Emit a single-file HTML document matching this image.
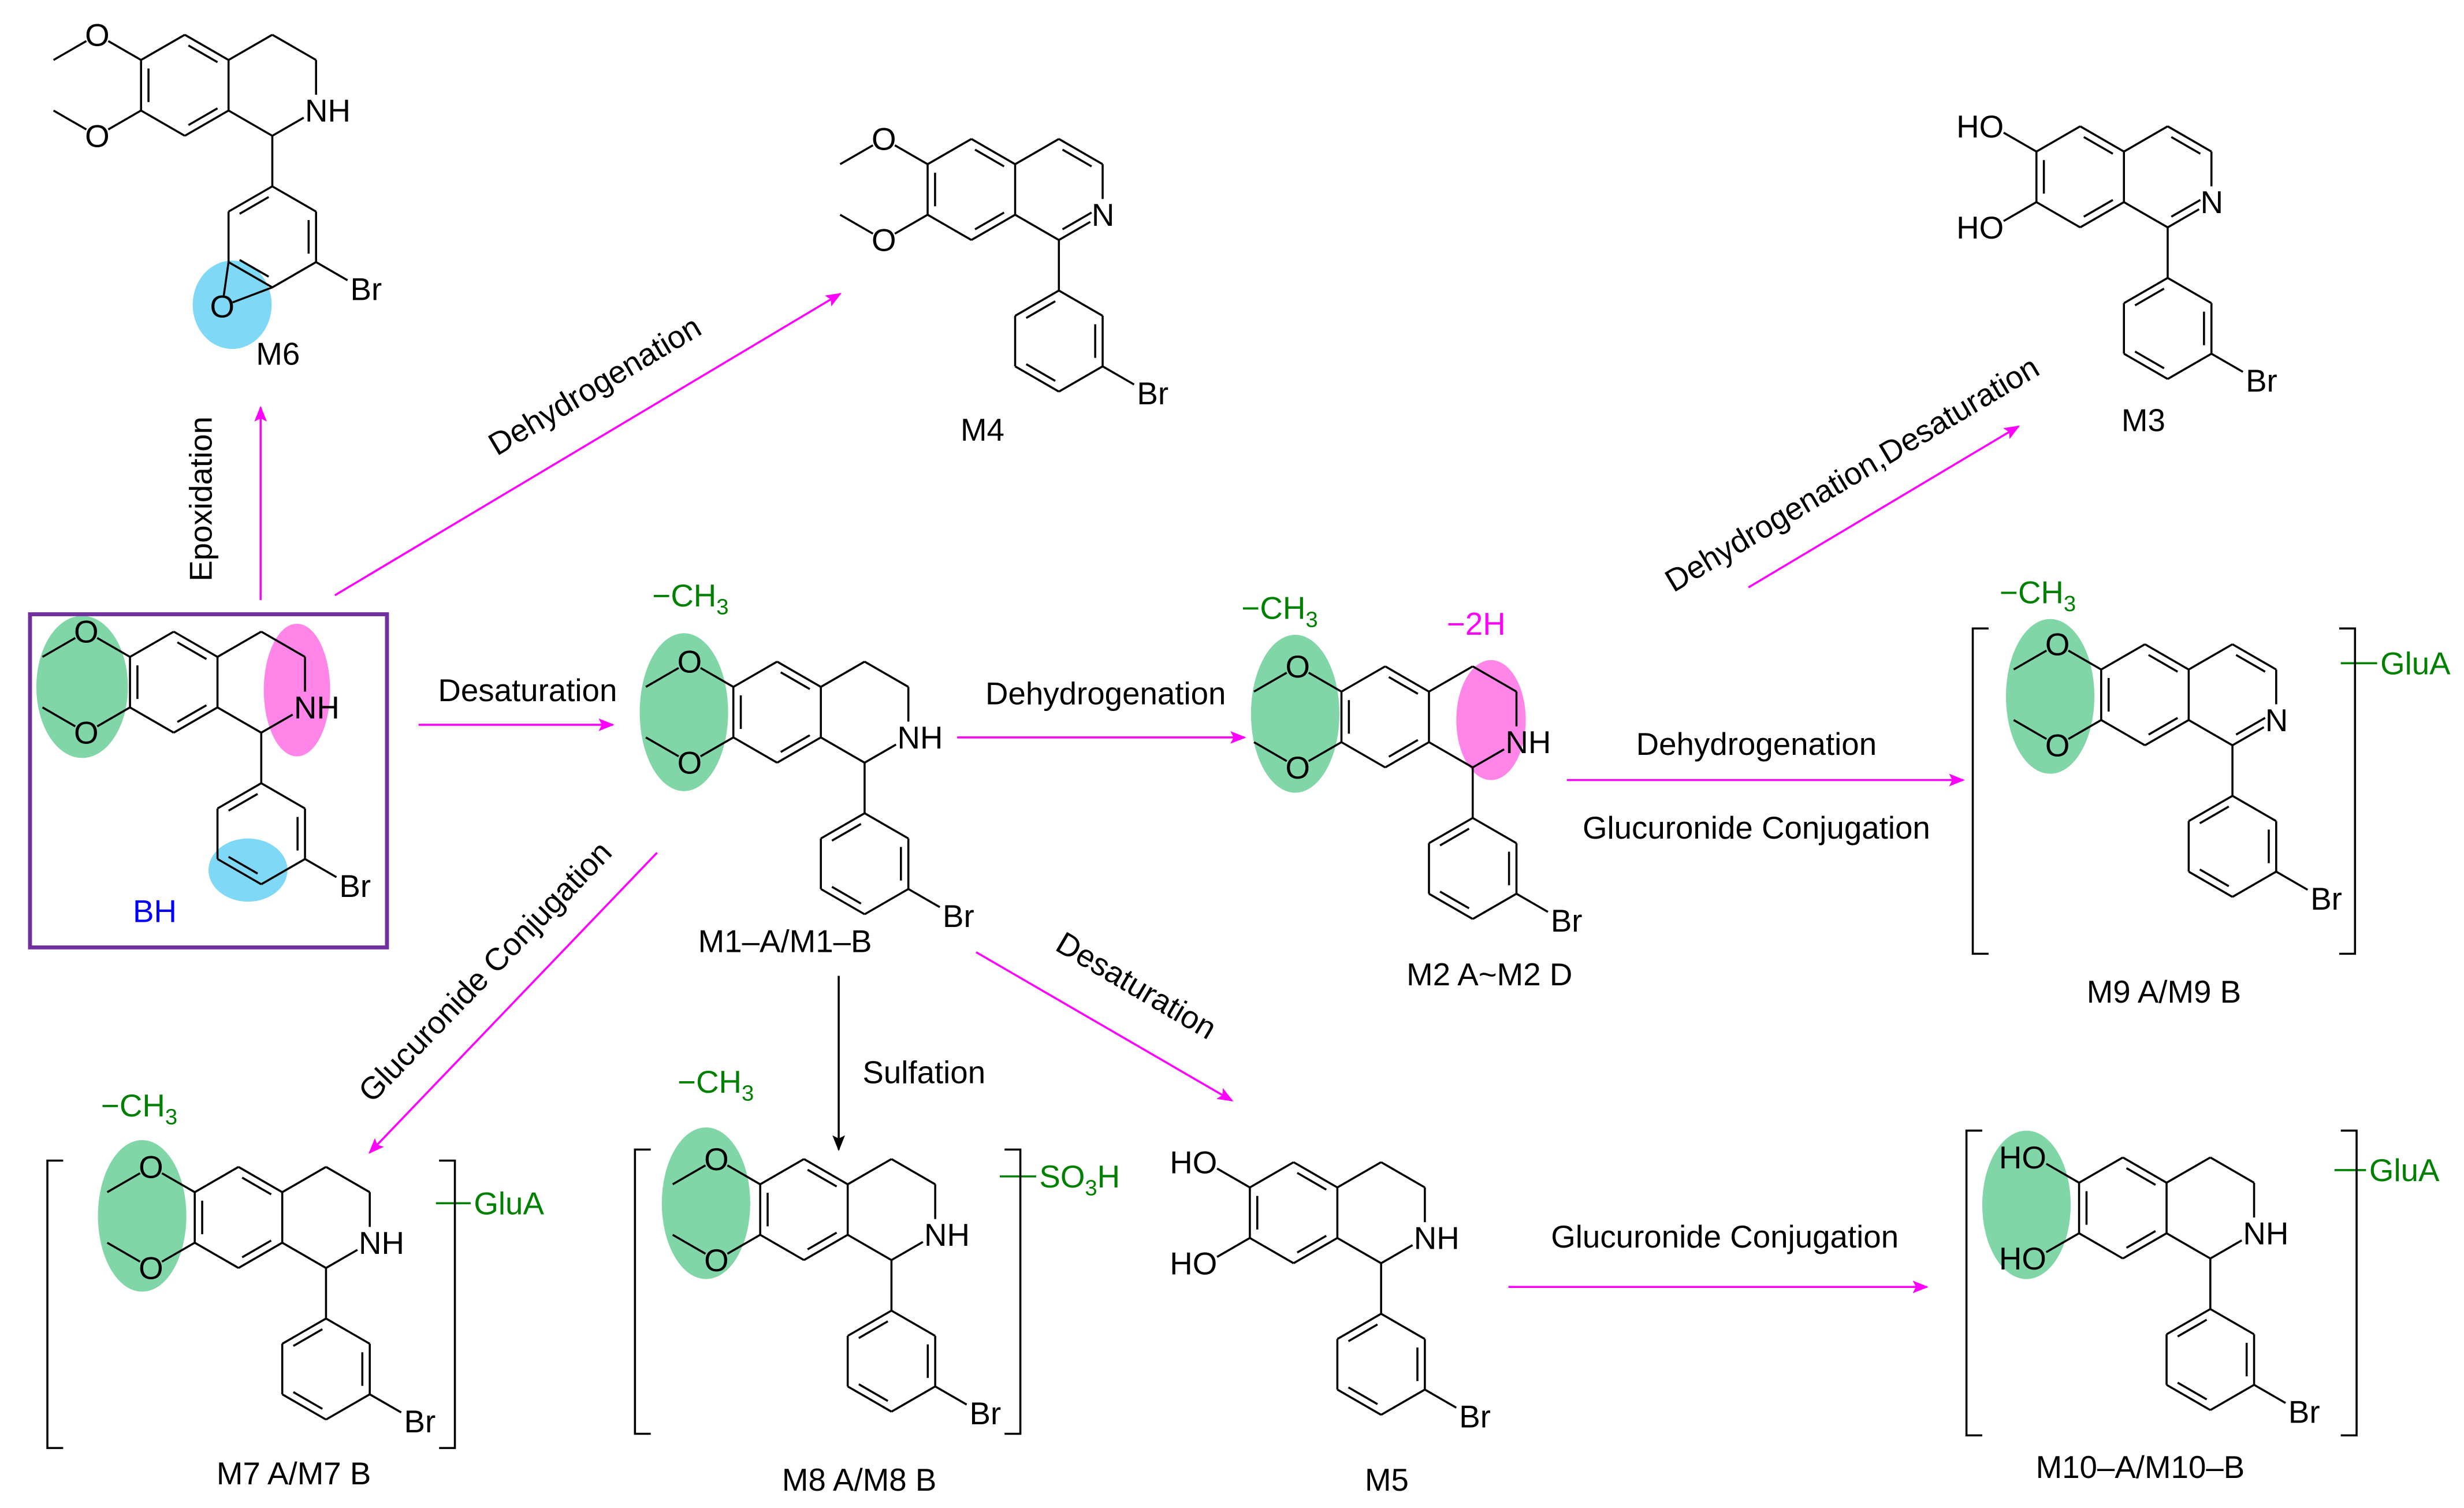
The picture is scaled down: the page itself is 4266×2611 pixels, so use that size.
<!DOCTYPE html>
<html><head><meta charset="utf-8"><style>
html,body{margin:0;padding:0;background:#fff;}
svg{display:block;}
text{font-family:"Liberation Sans",Arial,sans-serif;}
</style></head><body>
<svg id="s" xmlns="http://www.w3.org/2000/svg" width="4266" height="2611" viewBox="0 0 1560 955" preserveAspectRatio="none">
<defs>
<marker id="am" markerWidth="10" markerHeight="8" refX="9" refY="4" orient="auto" markerUnits="userSpaceOnUse"><path d="M0,0 L10,4 L0,8 L2,4 z" fill="#f0f"/></marker>
<marker id="ak" markerWidth="10" markerHeight="8" refX="9" refY="4" orient="auto" markerUnits="userSpaceOnUse"><path d="M0,0 L10,4 L0,8 L2,4 z" fill="#000"/></marker>
</defs>
<g id="hl" stroke="none">
<ellipse cx="52" cy="435" rx="29" ry="45" fill="#80d6a6"/>
<ellipse cx="188" cy="437" rx="21" ry="42" fill="#ff86e8"/>
<ellipse cx="157" cy="551" rx="25" ry="20" fill="#7fd8f5"/>
<ellipse cx="147" cy="193" rx="25" ry="28" fill="#7fd8f5"/>
<ellipse cx="433" cy="451" rx="28" ry="50" fill="#80d6a6"/>
<ellipse cx="820" cy="452" rx="28" ry="50" fill="#80d6a6"/>
<ellipse cx="944" cy="456" rx="22" ry="38" fill="#ff86e8"/>
<ellipse cx="1298" cy="441" rx="28" ry="49" fill="#80d6a6"/>
<ellipse cx="90" cy="770" rx="28" ry="48" fill="#80d6a6"/>
<ellipse cx="447" cy="762" rx="28" ry="48" fill="#80d6a6"/>
<ellipse cx="1283" cy="763" rx="28" ry="47" fill="#80d6a6"/>
</g>
<rect x="19" y="389" width="226" height="211" fill="none" stroke="#7030a0" stroke-width="2.5"/>
<g id="mols" stroke="#000" stroke-width="1.3" fill="none"></g>
<g id="labs" font-size="20" fill="#000"></g>

<g stroke="#f0f" stroke-width="1.3">
<line x1="165" y1="380" x2="165" y2="258" marker-end="url(#am)"/>
<line x1="212" y1="377" x2="532" y2="186" marker-end="url(#am)"/>
<line x1="265" y1="459" x2="388" y2="459" marker-end="url(#am)"/>
<line x1="606" y1="467" x2="788" y2="467" marker-end="url(#am)"/>
<line x1="992" y1="494" x2="1243" y2="494" marker-end="url(#am)"/>
<line x1="1107" y1="372" x2="1278" y2="270" marker-end="url(#am)"/>
<line x1="416" y1="540" x2="234" y2="730" marker-end="url(#am)"/>
<line x1="618" y1="603" x2="780" y2="697" marker-end="url(#am)"/>
<line x1="955" y1="815" x2="1220" y2="815" marker-end="url(#am)"/>
</g>
<line x1="531" y1="618" x2="531" y2="728" stroke="#000" stroke-width="1.3" marker-end="url(#ak)"/>

<g font-size="20" fill="#000">
<text transform="translate(134,316) rotate(-90)" text-anchor="middle">Epoxidation</text>
<text transform="translate(380,250) rotate(-30.8)" text-anchor="middle">Dehydrogenation</text>
<text x="334" y="444" text-anchor="middle">Desaturation</text>
<text x="700" y="446" text-anchor="middle">Dehydrogenation</text>
<text x="1112" y="478" text-anchor="middle">Dehydrogenation</text>
<text x="1112" y="531" text-anchor="middle">Glucuronide Conjugation</text>
<text transform="translate(1176,306) rotate(-30.8)" text-anchor="middle">Dehydrogenation,Desaturation</text>
<text transform="translate(312,620) rotate(-46)" text-anchor="middle">Glucuronide Conjugation</text>
<text x="585" y="686" text-anchor="middle">Sulfation</text>
<text transform="translate(716,630) rotate(30.5)" text-anchor="middle">Desaturation</text>
<text x="1092" y="790" text-anchor="middle">Glucuronide Conjugation</text>
<text x="176" y="231" text-anchor="middle">M6</text>
<text x="622" y="279" text-anchor="middle">M4</text>
<text x="1357" y="273" text-anchor="middle">M3</text>
<text x="497" y="603" text-anchor="middle">M1–A/M1–B</text>
<text x="943" y="624" text-anchor="middle">M2  A~M2  D</text>
<text x="1370" y="635" text-anchor="middle">M9  A/M9  B</text>
<text x="186" y="940" text-anchor="middle">M7  A/M7  B</text>
<text x="544" y="944" text-anchor="middle">M8  A/M8  B</text>
<text x="878" y="944" text-anchor="middle">M5</text>
<text x="1355" y="936" text-anchor="middle">M10–A/M10–B</text>
<text x="98" y="584" text-anchor="middle" fill="#0000ff">BH</text>
</g>
<g font-size="20" fill="#008000">
<text x="413" y="384">−CH<tspan font-size="14" dy="5">3</tspan></text>
<text x="786" y="392">−CH<tspan font-size="14" dy="5">3</tspan></text>
<text x="1266" y="382">−CH<tspan font-size="14" dy="5">3</tspan></text>
<text x="64" y="707">−CH<tspan font-size="14" dy="5">3</tspan></text>
<text x="429" y="692">−CH<tspan font-size="14" dy="5">3</tspan></text>
<text x="916" y="402" fill="#f0f">−2H</text>
<text x="1507" y="427">GluA</text>
<text x="300" y="769">GluA</text>
<text x="658" y="752">SO<tspan font-size="14" dy="5">3</tspan><tspan dy="-5">H</tspan></text>
<text x="1500" y="748">GluA</text>
</g>
<g stroke="#008000" stroke-width="1.3">
<line x1="1482" y1="420" x2="1505" y2="420"/>
<line x1="276" y1="762" x2="298" y2="762"/>
<line x1="633" y1="745" x2="656" y2="745"/>
<line x1="1478" y1="741" x2="1498" y2="741"/>
</g>
<g stroke="#000" stroke-width="1.3" fill="none">
<path d="M1259,398 H1249 V604 H1259"/><path d="M1481,398 H1491 V604 H1481"/>
<path d="M40,735 H30 V917 H40"/><path d="M278,735 H288 V917 H278"/>
<path d="M412,728 H402 V908 H412"/><path d="M636,728 H646 V908 H636"/>
<path d="M1255,716 H1245 V909 H1255"/><path d="M1482,716 H1492 V909 H1482"/>
</g>
</svg>
<script>
(function(){
var NS="http://www.w3.org/2000/svg",g=document.getElementById("mols"),lb=document.getElementById("labs");
function L(a,b,s1,s2){s1=s1||0;s2=s2||0;var dx=b[0]-a[0],dy=b[1]-a[1],d=Math.hypot(dx,dy);
var e=document.createElementNS(NS,"line");e.setAttribute("x1",a[0]+dx*s1/d);e.setAttribute("y1",a[1]+dy*s1/d);
e.setAttribute("x2",b[0]-dx*s2/d);e.setAttribute("y2",b[1]-dy*s2/d);g.appendChild(e);}
function D(a,b,c){var k=0.2,o=0.17;var m=[a[0]+(c[0]-a[0])*o,a[1]+(c[1]-a[1])*o],n=[b[0]+(c[0]-b[0])*o,b[1]+(c[1]-b[1])*o];
var dx=n[0]-m[0],dy=n[1]-m[1];L([m[0]+dx*k/2,m[1]+dy*k/2],[n[0]-dx*k/2,n[1]-dy*k/2]);}
function T(x,y,t,anc){var e=document.createElementNS(NS,"text");e.setAttribute("x",x);e.setAttribute("y",y);
if(anc)e.setAttribute("text-anchor",anc);e.textContent=t;lb.appendChild(e);}
function mol(cx,cy,o){var h=27.7,r=32;
var a=[[cx,cy-r],[cx+h,cy-r/2],[cx+h,cy+r/2],[cx,cy+r],[cx-h,cy+r/2],[cx-h,cy-r/2]];
var c=[cx,cy];for(var i=0;i<6;i++)L(a[i],a[(i+1)%6]);
D(a[0],a[1],c);D(a[2],a[3],c);D(a[4],a[5],c);
var b0=[cx+2*h,cy-r],b1=[cx+3*h,cy-r/2],N=[cx+3*h,cy+r/2],b3=[cx+2*h,cy+r],c2=[cx+2*h,cy];
L(a[1],b0);L(b0,b1);L(b1,N,0,10);L(N,b3,9,0);L(b3,a[2]);
if(o.arom){D(b0,b1,c2);D(b3,N,c2);T(N[0]-7,N[1]+7,"N");}else T(N[0]-7,N[1]+7,"NH");
var O1=[cx-2*h,cy-r],O2=[cx-2*h,cy+r];
L(a[5],O1,0,8);L(a[4],O2,0,8);
if(o.oh){T(O1[0]+7,O1[1]+7,"HO","end");T(O2[0]+7,O2[1]+7,"HO","end");}
else{L(O1,[cx-3*h,cy-r/2],8,0);L(O2,[cx-3*h,cy+r/2],8,0);T(O1[0],O1[1]+7,"O","middle");T(O2[0],O2[1]+7,"O","middle");}
var p0=[cx+2*h,cy+2*r],pc=[cx+2*h,cy+3*r];L(b3,p0);
var p=[p0,[pc[0]+h,pc[1]-r/2],[pc[0]+h,pc[1]+r/2],[pc[0],pc[1]+r],[pc[0]-h,pc[1]+r/2],[pc[0]-h,pc[1]-r/2]];
for(i=0;i<6;i++)L(p[i],p[(i+1)%6]);
D(p[5],p[0],pc);D(p[1],p[2],pc);D(p[3],p[4],pc);
var br=[pc[0]+2*h,pc[1]+r];L(p[2],br,0,9);T(br[0]-6,br[1]+8,"Br");
if(o.epox){var Ox=[p[4][0]-4,p[3][1]+12];L(p[4],Ox,0,7);L(p[3],Ox,0,7);T(Ox[0],Ox[1]+7,"O","middle");}
}
mol(110,432,{});
mol(117,54,{epox:1});
mol(615,120,{arom:1});
mol(1317,112,{arom:1,oh:1});
mol(492,451,{});
mol(877,454,{});
mol(1358,440,{arom:1});
mol(151,771,{});
mol(509,766,{});
mol(819,768,{oh:1});
mol(1344,765,{oh:1});
})();
</script>
</body></html>
